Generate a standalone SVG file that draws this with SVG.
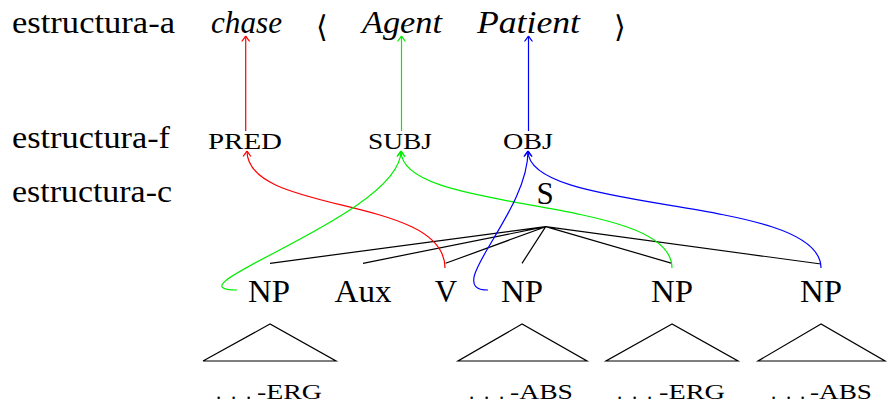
<svg xmlns="http://www.w3.org/2000/svg" width="893" height="405" viewBox="0 0 893 405" font-family="'Liberation Serif', 'DejaVu Serif', serif">
<style>
text{font-family:"Liberation Serif","DejaVu Serif",serif;fill:#000}
.lbl{font-size:31px}
.it{font-size:31px;font-style:italic}
.br{font-size:30px;font-family:"Noto Sans CJK JP","Noto Sans CJK SC","DejaVu Sans",sans-serif;font-weight:300}
.sc{font-size:23px}
.bot{font-size:21px}
.nd{font-size:31px;text-anchor:middle}
.tree{stroke:#000;stroke-width:1.2;fill:none}
.r{stroke:#ff0000;stroke-width:1.2;fill:none}
.g{stroke:#00ee00;stroke-width:1.2;fill:none}
.b{stroke:#0000ff;stroke-width:1.2;fill:none}
</style>
<defs>
<marker id="ar" markerUnits="userSpaceOnUse" viewBox="-7 -5 9 10" markerWidth="9" markerHeight="10" refX="0" refY="0" orient="auto" overflow="visible">
<path d="M-5.5,-4 C-2.5,-1.6 -0.7,-0.5 0,0 M-5.5,4 C-2.5,1.6 -0.7,0.5 0,0" fill="none" stroke="#ff0000" stroke-width="1.2"/>
</marker>
<marker id="ag" markerUnits="userSpaceOnUse" viewBox="-7 -5 9 10" markerWidth="9" markerHeight="10" refX="0" refY="0" orient="auto" overflow="visible">
<path d="M-5.5,-4 C-2.5,-1.6 -0.7,-0.5 0,0 M-5.5,4 C-2.5,1.6 -0.7,0.5 0,0" fill="none" stroke="#00ee00" stroke-width="1.2"/>
</marker>
<marker id="ab" markerUnits="userSpaceOnUse" viewBox="-7 -5 9 10" markerWidth="9" markerHeight="10" refX="0" refY="0" orient="auto" overflow="visible">
<path d="M-5.5,-4 C-2.5,-1.6 -0.7,-0.5 0,0 M-5.5,4 C-2.5,1.6 -0.7,0.5 0,0" fill="none" stroke="#0000ff" stroke-width="1.2"/>
</marker>
</defs>
<rect width="893" height="405" fill="#fff"/>

<g id="row-labels">
<text class="lbl" x="12" y="33" textLength="163" lengthAdjust="spacingAndGlyphs">estructura-a</text>
<text class="lbl" x="12" y="148" textLength="158" lengthAdjust="spacingAndGlyphs">estructura-f</text>
<text class="lbl" x="12" y="202" textLength="160" lengthAdjust="spacingAndGlyphs">estructura-c</text>
</g>

<g id="a-chase"><text class="it" x="211" y="33" textLength="71" lengthAdjust="spacingAndGlyphs">chase</text></g>
<g id="a-langle"><text class="br" x="322" y="37" text-anchor="middle">⟨</text></g>
<g id="a-agent"><text class="it" x="362" y="33" textLength="80" lengthAdjust="spacingAndGlyphs">Agent</text></g>
<g id="a-patient"><text class="it" x="477" y="33" textLength="103" lengthAdjust="spacingAndGlyphs">Patient</text></g>
<g id="a-rangle"><text class="br" x="620" y="37" text-anchor="middle">⟩</text></g>

<g id="f-pred"><text class="sc" x="208" y="149" textLength="74" lengthAdjust="spacingAndGlyphs">PRED</text></g>
<g id="f-subj"><text class="sc" x="368" y="149" textLength="64" lengthAdjust="spacingAndGlyphs">SUBJ</text></g>
<g id="f-obj"><text class="sc" x="503" y="149" textLength="50" lengthAdjust="spacingAndGlyphs">OBJ</text></g>

<g id="c-S"><text class="nd" x="545" y="203.5">S</text></g>
<g id="c-NP1"><text class="nd" x="269" y="301.5" textLength="42" lengthAdjust="spacingAndGlyphs">NP</text></g>
<g id="c-Aux"><text class="nd" x="363" y="301.5" textLength="57" lengthAdjust="spacingAndGlyphs">Aux</text></g>
<g id="c-V"><text class="nd" x="446" y="301.5">V</text></g>
<g id="c-NP2"><text class="nd" x="522" y="301.5" textLength="42" lengthAdjust="spacingAndGlyphs">NP</text></g>
<g id="c-NP3"><text class="nd" x="672" y="301.5" textLength="42" lengthAdjust="spacingAndGlyphs">NP</text></g>
<g id="c-NP4"><text class="nd" x="821" y="301.5" textLength="42" lengthAdjust="spacingAndGlyphs">NP</text></g>

<g id="tri-1"><path class="tree" d="M270,324 L203,361 L336,361 Z"/><text class="bot" y="399"><tspan x="216 231 246">...</tspan><tspan x="257" textLength="65" lengthAdjust="spacingAndGlyphs">-ERG</tspan></text></g>
<g id="tri-2"><path class="tree" d="M522,324 L458,361 L587,361 Z"/><text class="bot" y="399"><tspan x="469 484 499">...</tspan><tspan x="510" textLength="63" lengthAdjust="spacingAndGlyphs">-ABS</tspan></text></g>
<g id="tri-3"><path class="tree" d="M672,324 L606,361 L738,361 Z"/><text class="bot" y="399"><tspan x="617 632 647">...</tspan><tspan x="659" textLength="66" lengthAdjust="spacingAndGlyphs">-ERG</tspan></text></g>
<g id="tri-4"><path class="tree" d="M821,324 L758,361 L885,361 Z"/><text class="bot" y="399"><tspan x="771 786 800">...</tspan><tspan x="810" textLength="62" lengthAdjust="spacingAndGlyphs">-ABS</tspan></text></g>

<g id="connectors">
<path class="tree" d="M545.7,226.7 L270,263.3 M545.7,226.7 L363,263.3 M545.7,226.7 L445.6,263.3 M545.7,226.7 L522,263.3 M545.7,226.7 L672,263.3 M545.7,226.7 L821,264"/>
<path class="r" d="M245.7,131 L245.7,36" marker-end="url(#ar)"/>
<path class="g" d="M401.5,131 L401.5,36" marker-end="url(#ag)"/>
<path class="b" d="M528.5,131 L528.5,36" marker-end="url(#ab)"/>
<path class="r" d="M445,268 C445,195 247,215 247,151" marker-end="url(#ar)"/>
<path class="g" d="M237,290 C160,290 401,215 401,151" marker-end="url(#ag)"/>
<path class="g" d="M672,268 C672,195 401,215 401,151" marker-end="url(#ag)"/>
<path class="b" d="M488,290 C440,290 528,215 528,151" marker-end="url(#ab)"/>
<path class="b" d="M821,268 C821,195 528,215 528,151" marker-end="url(#ab)"/>
</g>
</svg>
